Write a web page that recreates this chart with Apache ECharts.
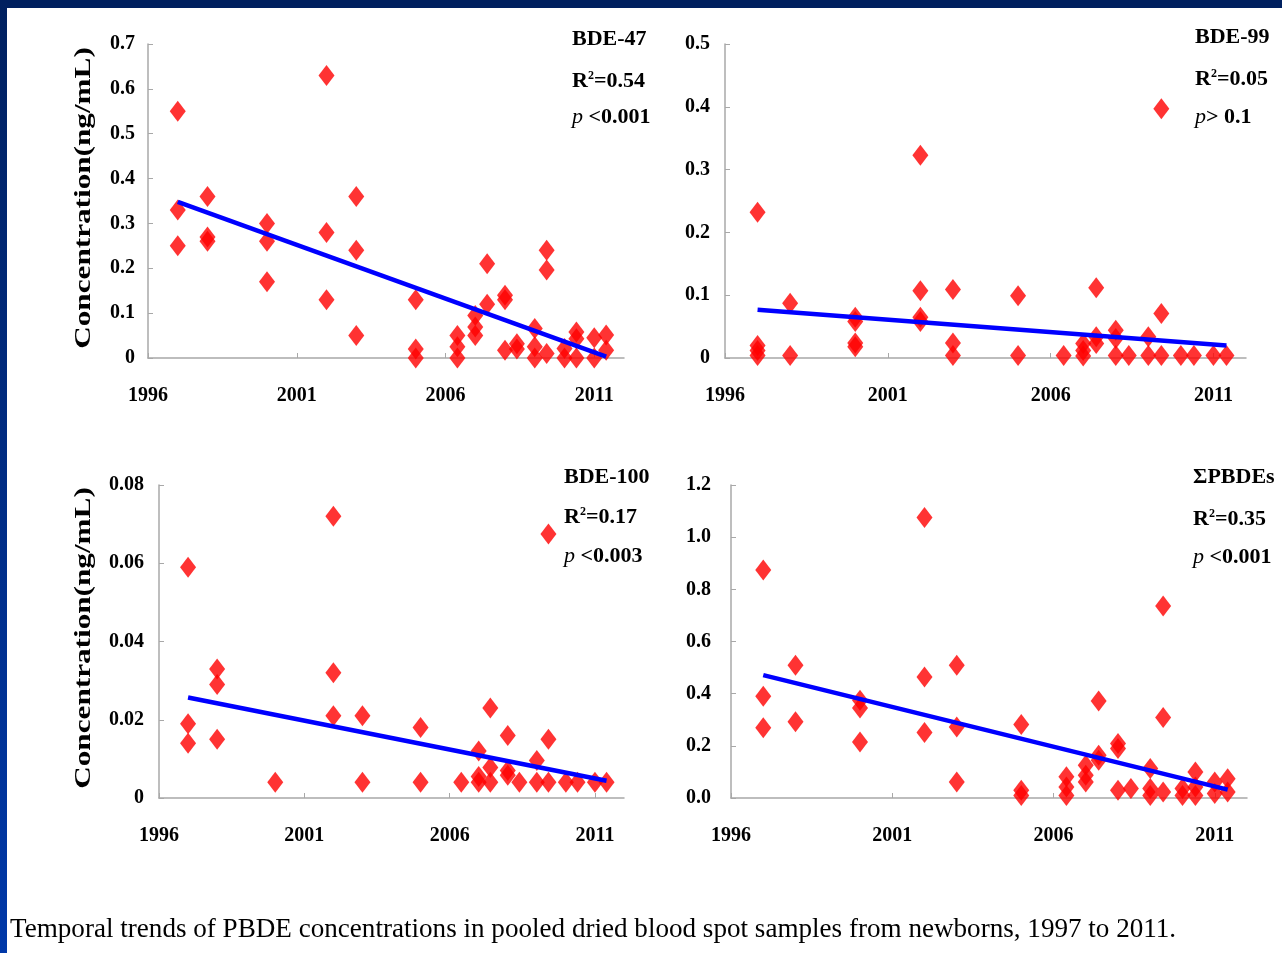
<!DOCTYPE html>
<html>
<head>
<meta charset="utf-8">
<title>Temporal trends of PBDE concentrations</title>
<script src="https://cdn.jsdelivr.net/npm/echarts@6/dist/echarts.min.js"></script>
<style>
  html, body { margin: 0; padding: 0; background: #ffffff; }
  #chart { width: 1282px; height: 953px; }
</style>
</head>
<body>
<div id="chart"></div>
<script>
// Sampling years (pooled samples, two collection points per year from 2006 on)
const years47 = [1997,1997,1997, 1998,1998,1998, 2000,2000,2000, 2002,2002,2002, 2003,2003,2003,
  2005,2005,2005, 2006.4,2006.4,2006.4, 2007,2007,2007, 2007.4,2007.4, 2008,2008,2008, 2008.4,2008.4,
  2009,2009,2009, 2009.4,2009.4,2009.4, 2010,2010, 2010.4,2010.4,2010.4, 2011,2011, 2011.4,2011.4];
const values47 = [0.55,0.33,0.25, 0.36,0.27,0.26, 0.30,0.26,0.17, 0.63,0.28,0.13, 0.36,0.24,0.05,
  0.13,0.02,0.00, 0.05,0.025,0.00, 0.095,0.069,0.05, 0.21,0.12, 0.14,0.13,0.017, 0.032,0.02,
  0.066,0.025,0.00, 0.24,0.196,0.01, 0.021,0.00, 0.058,0.043,0.00, 0.045,0.00, 0.051,0.017];

const years99 = [1997,1997,1997,1997, 1998,1998, 2000,2000,2000,2000, 2002,2002,2002,2002, 2003,2003,2003,
  2005,2005, 2006.4, 2007,2007,2007, 2007.4,2007.4,2007.4, 2008,2008,2008, 2008.4, 2009,2009,
  2009.4,2009.4,2009.4, 2010, 2010.4, 2011, 2011.4];
const values99 = [0.232,0.02,0.012,0.004, 0.087,0.004, 0.065,0.058,0.024,0.018, 0.323,0.107,0.065,0.058, 0.109,0.024,0.004,
  0.099,0.004, 0.004, 0.023,0.012,0.003, 0.112,0.034,0.023, 0.044,0.031,0.004, 0.004, 0.034,0.004,
  0.397,0.071,0.004, 0.004, 0.004, 0.004, 0.004];

const years100 = [1997,1997,1997, 1998,1998,1998, 2000, 2002,2002,2002, 2003,2003, 2005,2005, 2006.4,
  2007,2007,2007, 2007.4,2007.4,2007.4, 2008,2008,2008, 2008.4, 2009,2009, 2009.4,2009.4,2009.4,
  2010, 2010.4, 2011, 2011.4];
const values100 = [0.059,0.019,0.014, 0.033,0.029,0.015, 0.004, 0.072,0.032,0.021, 0.021,0.004, 0.018,0.004, 0.004,
  0.012,0.0055,0.004, 0.023,0.0078,0.004, 0.016,0.007,0.0058, 0.004, 0.0096,0.004, 0.0675,0.015,0.004,
  0.004, 0.004, 0.004, 0.004];

const yearsSum = [1997,1997,1997, 1998,1998, 2000,2000,2000, 2002,2002,2002, 2003,2003,2003,
  2005,2005,2005, 2006.4,2006.4,2006.4, 2007,2007,2007, 2007.4,2007.4,2007.4, 2008,2008,2008, 2008.4,
  2009,2009,2009, 2009.4,2009.4,2009.4, 2010,2010, 2010.4,2010.4,2010.4, 2011,2011, 2011.4,2011.4];
const valuesSum = [0.874,0.390,0.269, 0.509,0.292, 0.375,0.345,0.215, 1.075,0.464,0.251, 0.509,0.272,0.061,
  0.282,0.030,0.010, 0.081,0.042,0.010, 0.126,0.087,0.061, 0.372,0.164,0.145, 0.209,0.190,0.030, 0.036,
  0.113,0.036,0.010, 0.736,0.309,0.023, 0.036,0.010, 0.100,0.042,0.010, 0.061,0.017, 0.074,0.023];

// Fitted linear trends: [start, end] of each regression line
const trendYears = [1997, 2011.4];
const trend47 = [0.348, 0.003];
const trend99 = [0.077, 0.020];
const trend100 = [0.0257, 0.0044];
const trendSum = [0.471, 0.032];

// Axis settings
const yearTicks = [1996, 2001, 2006, 2011];
const yearMin = 1996, yearMax = 2012;
const yMax = [0.7, 0.5, 0.08, 1.2];
const yStep = [0.1, 0.1, 0.02, 0.2];

const panelNames = ['BDE-47', 'BDE-99', 'BDE-100', '\u03A3PBDEs'];
const r2Labels = ['0.54', '0.05', '0.17', '0.35'];
const pLabels = [' <0.001', '> 0.1', ' <0.003', ' <0.001'];
const yTitle = 'Concentration(ng/mL)';
const caption = 'Temporal trends of PBDE concentrations in pooled dried blood spot samples from newborns, 1997 to 2011.';

const SERIF = '"Liberation Serif", "Times New Roman", serif';
const grids = [
  { left: 148, top: 44, width: 476, height: 314 },
  { left: 725, top: 44, width: 521, height: 314 },
  { left: 159, top: 485, width: 465, height: 313 },
  { left: 731, top: 485, width: 516, height: 313 }
];
const yLabelMargin = [13, 15, 15, 20];
const annotPos = [
  { x: 572, y: [39, 81, 117] },
  { x: 1195, y: [37, 79, 117] },
  { x: 564, y: [477, 517, 556] },
  { x: 1193, y: [477, 519, 557] }
];

const pointSets = [[years47, values47], [years99, values99], [years100, values100], [yearsSum, valuesSum]];
const trends = [trend47, trend99, trend100, trendSum];

const axisGray = '#a8a8a8';
const xAxes = grids.map((g, i) => ({
  type: 'value', gridIndex: i, min: yearMin, max: yearMax,
  splitLine: { show: false },
  axisLine: { lineStyle: { color: axisGray, width: 1.5 } },
  axisTick: { show: true, inside: true, length: 5, customValues: yearTicks, lineStyle: { color: axisGray } },
  axisLabel: {
    customValues: yearTicks, margin: 28, color: '#000',
    fontFamily: SERIF, fontWeight: 'bold', fontSize: 20,
    formatter: v => String(v)
  }
}));
const yAxes = grids.map((g, i) => ({
  type: 'value', gridIndex: i, min: 0, max: yMax[i], interval: yStep[i],
  splitLine: { show: false },
  axisLine: { show: true, lineStyle: { color: axisGray, width: 1.5 } },
  axisTick: { show: true, inside: true, length: 5, lineStyle: { color: axisGray } },
  axisLabel: {
    margin: yLabelMargin[i], color: '#000',
    fontFamily: SERIF, fontWeight: 'bold', fontSize: 20,
    formatter: i === 3 ? (v => v.toFixed(1)) : (v => String(+v.toFixed(3)))
  }
}));

const series = [];
pointSets.forEach(([xs, ys], i) => {
  series.push({
    type: 'scatter', xAxisIndex: i, yAxisIndex: i,
    symbol: 'diamond', symbolSize: [16, 21],
    itemStyle: { color: '#ff0000' },
    data: xs.map((x, k) => [x, ys[k]]),
    z: 2
  });
  series.push({
    type: 'line', xAxisIndex: i, yAxisIndex: i,
    showSymbol: false, symbol: 'none',
    lineStyle: { color: '#0000ff', width: 4.5 },
    data: trendYears.map((x, k) => [x, trends[i][k]]),
    z: 3
  });
});

const graphics = [
  { type: 'rect', shape: { x: 0, y: 0, width: 1282, height: 8 }, style: { fill: '#00205f' }, z: 10 },
  { type: 'rect', shape: { x: 0, y: 0, width: 7, height: 953 },
    style: { fill: new echarts.graphic.LinearGradient(0, 0, 0, 1, [
      { offset: 0, color: '#00205f' }, { offset: 1, color: '#0038a8' }]) }, z: 10 }
];

const annotFont = { fontFamily: SERIF, fontWeight: 'bold', fontSize: 22, fill: '#000' };
annotPos.forEach((p, i) => {
  graphics.push({ type: 'text', x: p.x, y: p.y[0],
    style: Object.assign({ text: panelNames[i], verticalAlign: 'middle', align: 'left' }, annotFont) });
  graphics.push({ type: 'text', x: p.x, y: p.y[1],
    style: Object.assign({
      text: '{b|R}{sup|2}{b|=' + r2Labels[i] + '}', verticalAlign: 'middle', align: 'left',
      rich: {
        b: { fontFamily: SERIF, fontWeight: 'bold', fontSize: 22, fill: '#000', verticalAlign: 'bottom' },
        sup: { fontFamily: SERIF, fontWeight: 'bold', fontSize: 12, fill: '#000', verticalAlign: 'top', padding: [0, 0, 6, 0] }
      }
    }, annotFont) });
  graphics.push({ type: 'text', x: p.x, y: p.y[2],
    style: Object.assign({
      text: '{it|p}{b|' + pLabels[i] + '}', verticalAlign: 'middle', align: 'left',
      rich: {
        it: { fontFamily: SERIF, fontStyle: 'italic', fontSize: 22, fill: '#000' },
        b: { fontFamily: SERIF, fontWeight: 'bold', fontSize: 22, fill: '#000' }
      }
    }, annotFont) });
});

[[84, 198], [84, 638]].forEach(([cx, cy]) => {
  graphics.push({ type: 'text', x: cx, y: cy, rotation: Math.PI / 2, scaleX: 1.3,
    style: { text: yTitle, fontFamily: SERIF, fontWeight: 'bold', fontSize: 24, fill: '#000',
      align: 'center', verticalAlign: 'middle' } });
});

graphics.push({ type: 'text', x: 10, y: 930, scaleX: 0.968,
  style: { text: caption, fontFamily: SERIF, fontSize: 28, fill: '#000', align: 'left', verticalAlign: 'middle' } });

const chart = echarts.init(document.getElementById('chart'), null, { renderer: 'canvas' });
chart.setOption({
  backgroundColor: '#ffffff',
  animation: false,
  grid: grids,
  xAxis: xAxes,
  yAxis: yAxes,
  series: series,
  graphic: graphics
});
</script>
</body>
</html>
